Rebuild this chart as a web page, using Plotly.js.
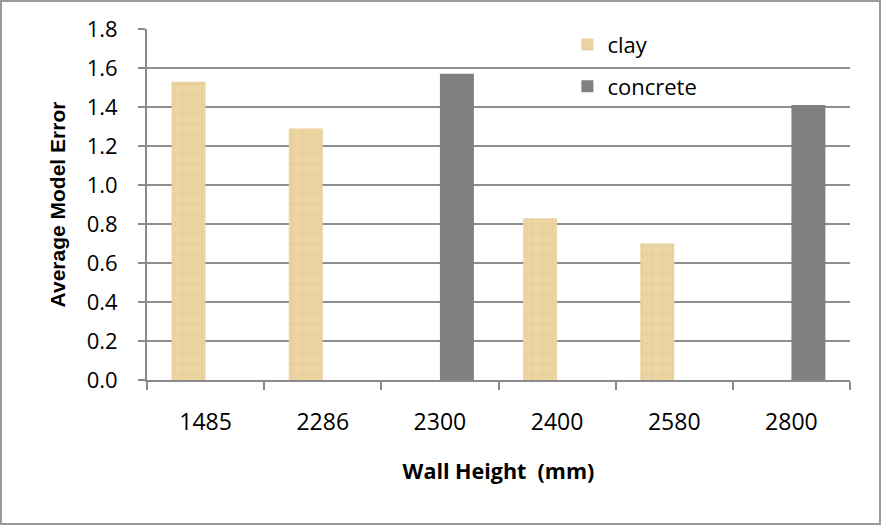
<!DOCTYPE html>
<html>
<head>
<meta charset="utf-8">
<script src="https://cdn.plot.ly/plotly-3.0.1.min.js"></script>
<style>
html,body{margin:0;padding:0;background:#fff;}
#wrap{width:881px;height:525px;box-sizing:border-box;border:2px solid #9a9a9a;}
#chart{width:877px;height:521px;}
</style>
</head>
<body>
<div id="wrap"><div id="chart"></div></div>
<script>
const categories = ["1485", "2286", "2300", "2400", "2580", "2800"];
const clayValues = [1.53, 1.29, null, 0.83, 0.70, null];
const concreteValues = [null, null, 1.57, null, null, 1.41];
const yTicks = [0, 0.2, 0.4, 0.6, 0.8, 1.0, 1.2, 1.4, 1.6, 1.8];

const font = "Open Sans, Liberation Sans, sans-serif";

const traces = [
  {
    type: "bar", name: "clay", x: categories, y: clayValues,
    legendgroup: "a",
    marker: {
      color: "#ebd39f",
      line: {width: 0},
      pattern: {shape: "+", bgcolor: "#ecd5a2", fgcolor: "#d6bb82", fgopacity: 0.45, size: 10, solidity: 0.15, fillmode: "overlay"}
    }
  },
  {
    type: "bar", name: "concrete", x: categories, y: concreteValues,
    legendgroup: "b",
    marker: {color: "#808080", line: {width: 0}}
  }
];

const layout = {
  width: 877, height: 521,
  margin: {l: 145, r: 29, t: 27, b: 143},
  paper_bgcolor: "#ffffff", plot_bgcolor: "#ffffff",
  font: {family: font, size: 22, color: "#000"},
  barmode: "group", bargap: 0.42, bargroupgap: 0,
  showlegend: true,
  legend: {
    x: 0.598, y: 1.015, xanchor: "left", yanchor: "top",
    traceorder: "grouped", tracegroupgap: 10,
    font: {family: font, size: 22},
    bgcolor: "rgba(0,0,0,0)"
  },
  xaxis: {
    type: "category", categoryorder: "array", categoryarray: categories,
    tickson: "boundaries", ticks: "outside", ticklen: 8, tickwidth: 2, tickcolor: "#8a8a8a",
    showline: true, linecolor: "#8a8a8a", linewidth: 2,
    showgrid: false, ticklabelstandoff: 20,
    tickfont: {family: font, size: 23},
    title: {text: "<b>Wall Height  (mm)</b>", font: {family: font, size: 21.5}, standoff: 28}
  },
  yaxis: {
    range: [0, 1.8], tickvals: yTicks, tickformat: ".1f",
    ticks: "outside", ticklen: 7, tickwidth: 2, tickcolor: "#8a8a8a",
    showline: true, linecolor: "#8a8a8a", linewidth: 2,
    showgrid: true, gridcolor: "#8e8e8e", gridwidth: 2,
    zeroline: false, ticklabelstandoff: 16,
    tickfont: {family: font, size: 22},
    title: {text: "<b>Average Model Error</b>", font: {family: "Liberation Sans, sans-serif", size: 21}, standoff: 15}
  }
};

Plotly.newPlot("chart", traces, layout, {displayModeBar: false, staticPlot: true});
</script>
</body>
</html>
